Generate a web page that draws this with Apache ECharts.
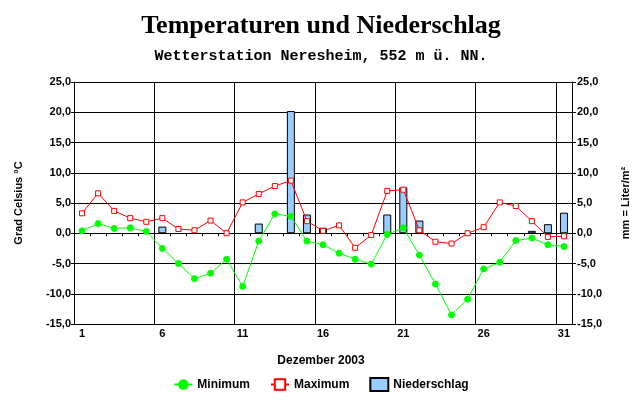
<!DOCTYPE html>
<html><head><meta charset="utf-8">
<script src="https://cdn.jsdelivr.net/npm/echarts@6/dist/echarts.min.js"></script>
<style>html,body{margin:0;padding:0;background:#fff}#c{width:642px;height:403px}</style>
</head><body><div id="c"></div>
<script>
const days = ['1','2','3','4','5','6','7','8','9','10','11','12','13','14','15','16','17','18','19','20','21','22','23','24','25','26','27','28','29','30','31'];
const minimum = [0.4,1.6,0.8,0.9,0.3,-2.5,-5.0,-7.5,-6.6,-4.3,-8.8,-1.3,3.2,2.8,-1.3,-1.9,-3.3,-4.3,-5.1,-0.2,0.9,-3.6,-8.4,-13.5,-10.9,-5.9,-4.8,-1.2,-0.8,-1.9,-2.2];
const maximum = [3.3,6.6,3.7,2.5,1.9,2.5,0.7,0.5,2.1,0.0,5.1,6.5,7.8,8.7,2.0,0.4,1.3,-2.4,-0.3,7.0,7.2,0.5,-1.4,-1.7,0.0,1.0,5.1,4.5,2.0,-0.6,-0.5];
const niederschlag = [0,0,0,0,0,1.1,0,0,0,0,0,1.6,0,20.2,3.1,0.9,0,0,0,3.1,7.6,2.1,0,0,0,0,0,0,0.4,1.5,3.4];
const yMin = -15, yMax = 25, yStep = 5;

const fmt = v => v.toFixed(1).replace('.', ',');
const lab = {fontFamily:'Arial, Liberation Sans', fontWeight:'bold', fontSize:11, color:'#000'};
const chart = echarts.init(document.getElementById('c'), null, {renderer:'canvas'});
chart.setOption({
  animation:false,
  backgroundColor:'#fff',
  title:[
    {text:'Temperaturen und Niederschlag', left:'center', top:8,
     textStyle:{fontFamily:'Liberation Serif, Times New Roman', fontWeight:'bold', fontSize:26, color:'#000'}},
    {text:'Wetterstation Neresheim, 552 m ü. NN.', left:'center', top:44,
     textStyle:{fontFamily:'Liberation Mono, Courier New', fontWeight:'bold', fontSize:15, color:'#000'}},
    {text:'Dezember 2003', left:'center', top:350,
     textStyle:{fontFamily:'Arial, Liberation Sans', fontWeight:'bold', fontSize:12, color:'#000'}}
  ],
  grid:{left:74, right:70, top:82, bottom:79, containLabel:false, outerBoundsMode:'none'},
  legend:{
    top:372, left:'center', itemGap:20, itemWidth:18, itemHeight:13,
    textStyle:{fontFamily:'Arial, Liberation Sans', fontWeight:'bold', fontSize:12, color:'#000'},
    data:['Minimum','Maximum',{name:'Niederschlag', icon:'rect'}]
  },
  xAxis:[
    {type:'category', data:days, position:'bottom', boundaryGap:true,
     axisLine:{show:false, onZero:false}, axisTick:{show:false},
     axisLabel:Object.assign({interval:4, margin:4, fontSize:12}, lab),
     splitLine:{show:true, interval:4, lineStyle:{color:'#000', width:1}}},
    {type:'category', data:days, position:'bottom', boundaryGap:true,
     axisLine:{show:true, onZero:true, lineStyle:{color:'#000', width:1}},
     axisTick:{show:true, interval:0, length:3, lineStyle:{color:'#000'}},
     axisLabel:{show:false}, splitLine:{show:false}}
  ],
  yAxis:[
    {type:'value', min:yMin, max:yMax, interval:yStep, position:'left',
     name:'Grad Celsius °C', nameLocation:'middle', nameGap:50, nameRotate:90,
     nameTextStyle:{fontFamily:'Arial, Liberation Sans', fontWeight:'bold', fontSize:11, color:'#000'},
     axisLine:{show:true, lineStyle:{color:'#000'}}, axisTick:{show:true, length:3, lineStyle:{color:'#000'}},
     axisLabel:Object.assign({formatter:fmt, margin:3}, lab),
     splitLine:{show:true, lineStyle:{color:'#000', width:1}}},
    {type:'value', min:yMin, max:yMax, interval:yStep, position:'right',
     name:'mm = Liter/m²', nameLocation:'middle', nameGap:48, nameRotate:90,
     nameTextStyle:{fontFamily:'Arial, Liberation Sans', fontWeight:'bold', fontSize:11, color:'#000'},
     axisLine:{show:true, lineStyle:{color:'#000'}}, axisTick:{show:true, length:4, lineStyle:{color:'#000'}},
     axisLabel:Object.assign({formatter:fmt, margin:5}, lab),
     splitLine:{show:false}}
  ],
  series:[
    {name:'Niederschlag', type:'bar', xAxisIndex:0, yAxisIndex:1,
     data:niederschlag.map(v => v === 0 ? '-' : v), barWidth:8, z:2,
     itemStyle:{color:'#99ccff', borderColor:'#000', borderWidth:1}},
    {name:'Minimum', type:'line', xAxisIndex:0, yAxisIndex:0, data:minimum, z:4,
     symbol:'circle', symbolSize:6, lineStyle:{color:'#00ff00', width:1},
     itemStyle:{color:'#00ff00', borderColor:'#00ff00'}},
    {name:'Maximum', type:'line', xAxisIndex:0, yAxisIndex:0, data:maximum, z:5,
     symbol:'rect', symbolSize:5, lineStyle:{color:'#ff0000', width:1},
     itemStyle:{color:'#ffffff', borderColor:'#ff0000', borderWidth:1}}
  ]
});
</script></body></html>
